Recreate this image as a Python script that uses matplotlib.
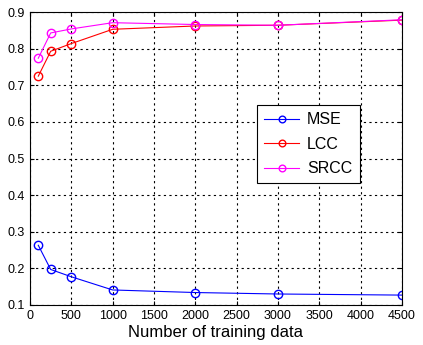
import matplotlib
matplotlib.use("Agg")
import matplotlib.pyplot as plt

plt.rcParams['font.family'] = ['Liberation Sans', 'DejaVu Sans']

n_train = [100, 250, 500, 1000, 2000, 3000, 4500]
mse = [0.263, 0.197, 0.177, 0.141, 0.134, 0.130, 0.127]
lcc = [0.725, 0.793, 0.814, 0.853, 0.862, 0.864, 0.878]
srcc = [0.774, 0.843, 0.854, 0.871, 0.866, 0.864, 0.879]

xticks = list(range(0, 4501, 500))
yticks = [0.1, 0.2, 0.3, 0.4, 0.5, 0.6, 0.7, 0.8, 0.9]

fig = plt.figure(figsize=(4.23, 3.45), dpi=100)
ax = fig.add_axes([0.071, 0.116, 0.879, 0.849])

ax.plot(n_train, mse, color='#0000ff', marker='o', markersize=6, markerfacecolor='none',
        linewidth=0.8, label='MSE')
ax.plot(n_train, lcc, color='#ff0000', marker='o', markersize=6, markerfacecolor='none',
        linewidth=0.8, label='LCC')
ax.plot(n_train, srcc, color='#ff00ff', marker='o', markersize=6, markerfacecolor='none',
        linewidth=0.8, label='SRCC')

ax.set_xlim(0, 4500)
ax.set_ylim(0.1, 0.9)
ax.set_xticks(xticks)
ax.set_yticks(yticks)
ax.set_xticklabels([str(t) for t in xticks])
ax.set_yticklabels(['%.1f' % t for t in yticks])
ax.tick_params(direction='in', labelsize=9, length=3, top=True, right=True)
ax.grid(color='black', linestyle=(0, (2, 3)), linewidth=0.8)
for s in ax.spines.values():
    s.set_linewidth(0.8)

ax.set_xlabel('Number of training data', fontsize=12, labelpad=2)

leg = ax.legend(loc='upper left', bbox_to_anchor=(0.61, 0.683), borderaxespad=0,
                fontsize=11.5, fancybox=False, edgecolor='black', framealpha=1,
                handlelength=2.2, borderpad=0.45, labelspacing=0.6, handletextpad=0.5,
                markerscale=0.8)
leg.get_frame().set_linewidth(0.8)

plt.savefig('out.png', dpi=100)
